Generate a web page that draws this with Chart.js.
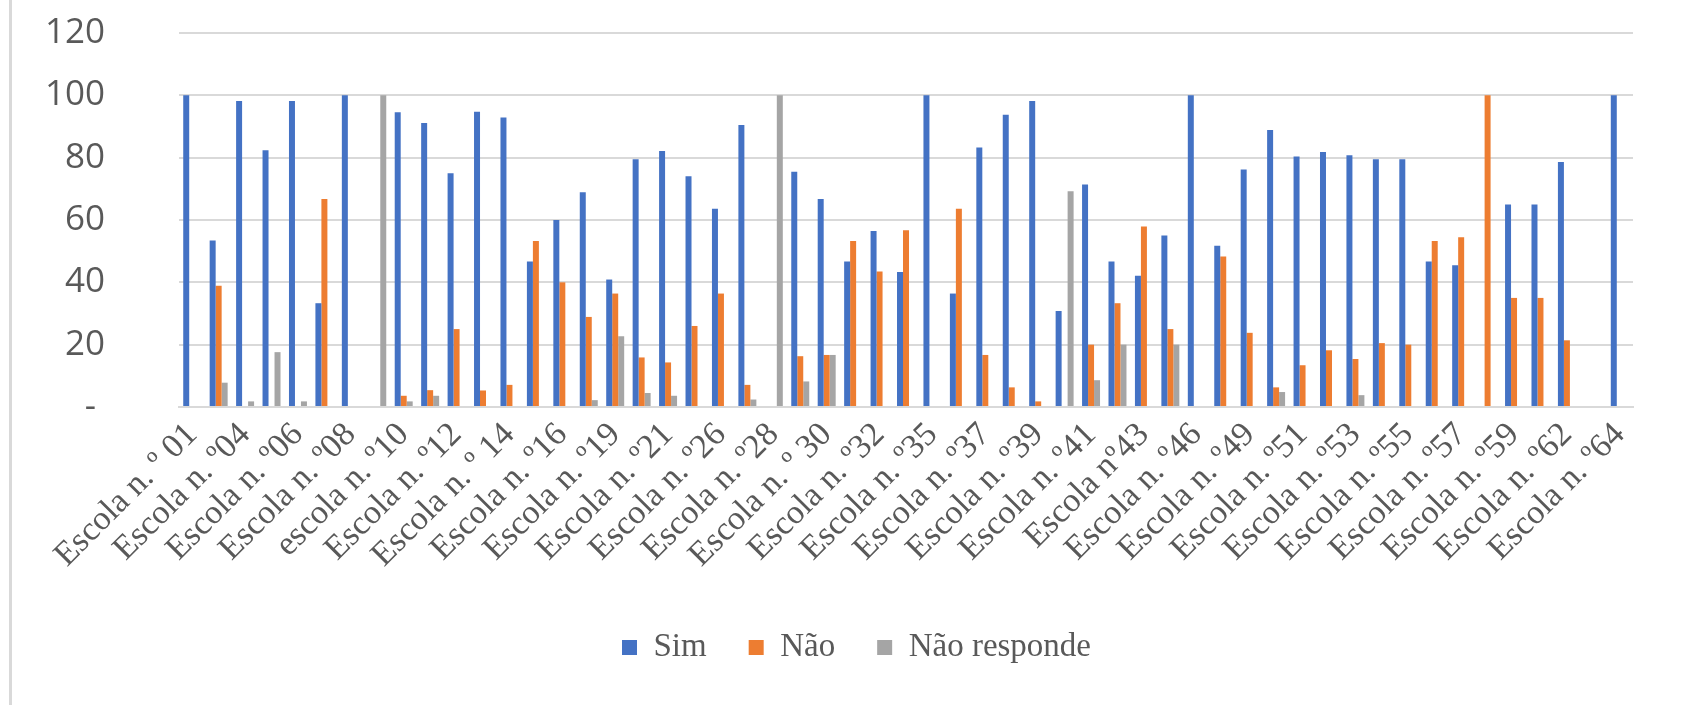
<!DOCTYPE html>
<html>
<head>
<meta charset="utf-8">
<script src="https://cdn.jsdelivr.net/npm/chart.js@4"></script>
<style>
  html, body { margin: 0; padding: 0; background: #fff; }
  #wrap { position: relative; width: 1684px; height: 705px; }
  #edge { position: absolute; left: 9px; top: 0; width: 3px; height: 705px; background: #d9d9d9; }
</style>
</head>
<body>
<div id="wrap">
  <div id="edge"></div>
  <canvas id="chart-escolas"></canvas>
</div>
<script>
'use strict';

// categories (only every other one is labelled on the axis)
const schools = [
  'Escola n. º 01', 'Escola n. º03', 'Escola n. º04', 'Escola n. º05', 'Escola n. º06',
  'Escola n. º07', 'Escola n. º08', 'Escola n. º09', 'escola n. º10', 'Escola n. º11',
  'Escola n. º12', 'Escola n. º13', 'Escola n. º 14', 'Escola n. º15', 'Escola n. º16',
  'Escola n. º17', 'Escola n. º19', 'Escola n. º20', 'Escola n. º21', 'Escola n. º24',
  'Escola n. º26', 'Escola n. º27', 'Escola n. º28', 'Escola n. º29', 'Escola n. º 30',
  'Escola n. º31', 'Escola n. º32', 'Escola n. º33', 'Escola n. º35', 'Escola n. º36',
  'Escola n. º37', 'Escola n. º38', 'Escola n. º39', 'Escola n. º40', 'Escola n. º41',
  'Escola nº42', 'Escola nº43', 'Escola n. º44', 'Escola n. º46', 'Escola n. º47',
  'Escola n. º49', 'Escola n. º50', 'Escola n. º51', 'Escola n. º52', 'Escola n. º53',
  'Escola n. º54', 'Escola n. º55', 'Escola n. º56', 'Escola n. º57', 'Escola n. º58',
  'Escola n. º59', 'Escola n. º60', 'Escola n. º62', 'Escola n. º63', 'Escola n. º64'
];

const sim = [
  100, 53.4, 98.2, 82.4, 98.2, 33.3, 100, 0, 94.6, 91.1,
  75, 94.7, 92.9, 46.7, 60, 68.9, 40.9, 79.5, 82.1, 74,
  63.6, 90.5, 0, 75.5, 66.7, 46.7, 56.5, 43.3, 100, 36.4,
  83.3, 93.8, 98.2, 30.8, 71.4, 46.7, 42.1, 55, 100, 51.7,
  76.2, 88.9, 80.4, 81.8, 80.8, 79.5, 79.5, 46.7, 45.5, 0,
  65, 65, 78.6, 0, 100
];

const nao = [
  0, 38.9, 0, 0, 0, 66.7, 0, 0, 3.6, 5.4,
  25, 5.3, 7.1, 53.3, 40, 28.9, 36.4, 15.9, 14.3, 26,
  36.4, 7.1, 0, 16.3, 16.7, 53.3, 43.5, 56.7, 0, 63.6,
  16.7, 6.3, 1.8, 0, 20, 33.3, 57.9, 25, 0, 48.3,
  23.8, 6.3, 13.4, 18.2, 15.4, 20.5, 20, 53.3, 54.5, 100,
  35, 35, 21.4, 0, 0
];

const naoResponde = [
  0, 7.8, 1.8, 17.6, 1.8, 0, 0, 100, 1.8, 3.6,
  0, 0, 0, 0, 0, 2.2, 22.7, 4.5, 3.6, 0,
  0, 2.4, 100, 8.2, 16.7, 0, 0, 0, 0, 0,
  0, 0, 0, 69.2, 8.6, 20, 0, 20, 0, 0,
  0, 4.8, 0, 0, 3.8, 0, 0, 0, 0, 0,
  0, 0, 0, 0, 0
];

const yTicks = [0, 20, 40, 60, 80, 100, 120];

const TEXT = '#595959';
const GRID = '#d9d9d9';
const SERIF = "'Liberation Serif', 'Times New Roman', serif";

function bar(label, data, color) {
  return {
    label: label,
    data: data,
    backgroundColor: color,
    borderWidth: 0,
    categoryPercentage: 0.68,
    barPercentage: 1.0
  };
}

/* Excel centres the legend a bit to the right of the canvas middle */
const legendNudge = {
  id: 'legendNudge',
  afterLayout(chart) {
    const lg = chart.legend;
    if (!lg) return;
    lg.left += 35;
    lg.right += 35;
  }
};

function initChart() {
  const ctx = document.getElementById('chart-escolas').getContext('2d');
  return new Chart(ctx, {
    type: 'bar',
    data: {
      labels: schools,
      datasets: [
        bar('Sim', sim, '#4472C4'),
        bar('Não', nao, '#ED7D31'),
        bar('Não responde', naoResponde, '#A5A5A5')
      ]
    },
    plugins: [legendNudge],
    options: {
      responsive: true,
      maintainAspectRatio: false,
      animation: false,
      layout: { padding: { left: 10, right: 51, top: 33, bottom: 31 } },
      plugins: {
        tooltip: { enabled: false },
        legend: {
          position: 'bottom',
          labels: {
            color: TEXT,
            font: { family: SERIF, size: 33 },
            boxWidth: 15,
            boxHeight: 15,
            padding: 42
          }
        }
      },
      scales: {
        x: {
          grid: { display: false, drawTicks: false },
          border: { display: true, color: GRID, width: 2 },
          ticks: {
            color: TEXT,
            font: { family: SERIF, size: 34 },
            autoSkip: false,
            minRotation: 45,
            maxRotation: 45,
            padding: 8,
            callback: function (v, i) { return i % 2 === 0 ? this.getLabelForValue(v) : ''; }
          },
          afterFit: s => { s.height = 182; s.paddingLeft = 0; s.paddingRight = 0; }
        },
        y: {
          min: 0,
          max: 120,
          afterBuildTicks: s => { s.ticks = yTicks.map(v => ({ value: v })); },
          grid: { color: GRID, lineWidth: 2, drawTicks: true, tickLength: 66, tickColor: 'rgba(0,0,0,0)' },
          border: { display: false },
          ticks: {
            color: TEXT,
            font: { family: "'Open Sans', sans-serif", size: 35 },
            padding: 8,
            callback: v => v === 0 ? '- ' : v
          },
          afterFit: s => { s.width = 169; }
        }
      }
    }
  });
}

document.addEventListener('DOMContentLoaded', initChart);
</script>
</body>
</html>
